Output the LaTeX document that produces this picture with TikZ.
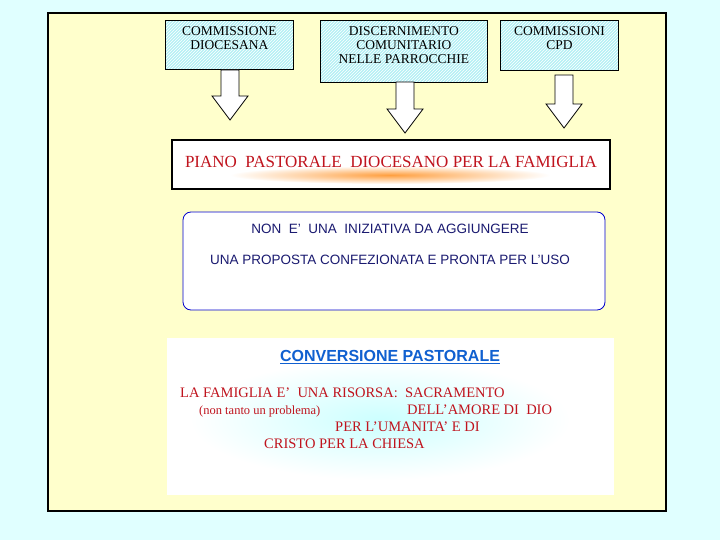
\documentclass[tikz,border=0pt]{standalone}
\usepackage{fontspec}
\setmainfont{Liberation Serif}
\setsansfont{Liberation Sans}
\usetikzlibrary{patterns,shadings}
\definecolor{pagecyan}{HTML}{E0FFFF}
\definecolor{paper}{HTML}{FFFFCC}
\definecolor{hatchcyan}{HTML}{B4F0F5}
\definecolor{darkred}{HTML}{C0141E}
\definecolor{navy}{HTML}{1A1A70}
\definecolor{titleblue}{HTML}{1060D0}
\tikzset{
  source/.style={preaction={fill=hatchcyan}, preaction={pattern=north east lines, pattern color=white},
    draw, thick, anchor=north west, inner sep=3pt},
  sourcetext/.style={align=center, font=\fontsize{13.5}{14}\selectfont, anchor=north, yshift=-3pt},
  hollow/.style={draw, thick, fill=white, line join=miter},
  redline/.style={text=darkred, font=\fontsize{14.5}{16}\selectfont, anchor=base west, inner sep=0pt}
}
% hollow down arrow: x, top y, length
\newcommand{\blockdown}[3]{%
  \draw[hollow] (#1-9,#2) -- (#1+9,#2) -- (#1+9,#2+#3-24) -- (#1+18,#2+#3-24)
    -- (#1,#2+#3) -- (#1-18,#2+#3-24) -- (#1-9,#2+#3-24) -- cycle;}
\begin{document}
\begin{tikzpicture}[x=1pt,y=-1pt]
  \useasboundingbox (0,0) rectangle (720,540);
  % page and frame
  \fill[pagecyan] (0,0) rectangle (720,540);
  \draw[line width=1.5pt, fill=paper] (48,13) rectangle (666,511);
  % sources
  \node[source, minimum width=128pt, minimum height=49pt] (diocesana) at (165,20) {};
  \node[sourcetext] (diocesanatext) at (diocesana.north) {COMMISSIONE\\DIOCESANA};
  \node[source, minimum width=167pt, minimum height=62pt] (discern) at (320,20) {};
  \node[sourcetext] (discerntext) at (discern.north) {DISCERNIMENTO\\COMUNITARIO\\NELLE PARROCCHIE};
  \node[source, minimum width=118pt, minimum height=50pt] (cpd) at (500,20) {};
  \node[sourcetext] (cpdtext) at (cpd.north) {COMMISSIONI\\CPD};
  % arrows
  \blockdown{230}{70}{50}
  \blockdown{405}{82}{51}
  \blockdown{564}{75}{53}
  % piano
  \fill[white] (172,140) rectangle (610,189);
  \shade[inner color=orange!75, outer color=white] (390,175) ellipse (160pt and 9pt);
  \draw[line width=1.5pt] (172,140) rectangle (610,189);
  \node[text=darkred, font=\fontsize{17}{19}\selectfont] (piano) at (391,162) {PIANO\ \ PASTORALE\ \ DIOCESANO PER LA FAMIGLIA};
  % proposta
  \draw[rounded corners=8pt, thick, draw=blue!80!black, fill=white] (183,212) rectangle (605,310);
  \node[text=navy, font=\sffamily\fontsize{13.5}{15}\selectfont] (iniz) at (390,229) {NON\ \ E'\ \ UNA\ \ INIZIATIVA DA AGGIUNGERE};
  \node[text=navy, font=\sffamily\fontsize{13.5}{15}\selectfont] (prop) at (390,260) {UNA PROPOSTA CONFEZIONATA E PRONTA PER L'USO};
  % conversione
  \fill[white] (167,338) rectangle (614,495);
  \shade[inner color=cyan!20, outer color=white] (380,420) ellipse (190pt and 60pt);
  \node[text=titleblue, font=\sffamily\bfseries\fontsize{16}{18}\selectfont] (conv) at (390,357) {\underline{CONVERSIONE PASTORALE}};
  \node[redline] (l1) at (180,397) {LA FAMIGLIA E'\ \ UNA RISORSA:\ \ SACRAMENTO};
  \node[redline, font=\fontsize{12.5}{14}\selectfont] (l2) at (199,414) {(non tanto un problema)};
  \node[redline] (l2b) at (407,414) {DELL'AMORE DI\ \ DIO};
  \node[redline] (l3) at (335,431) {PER L'UMANITA' E DI};
  \node[redline] (l4) at (264,448) {CRISTO PER LA CHIESA};
\end{tikzpicture}
\end{document}
